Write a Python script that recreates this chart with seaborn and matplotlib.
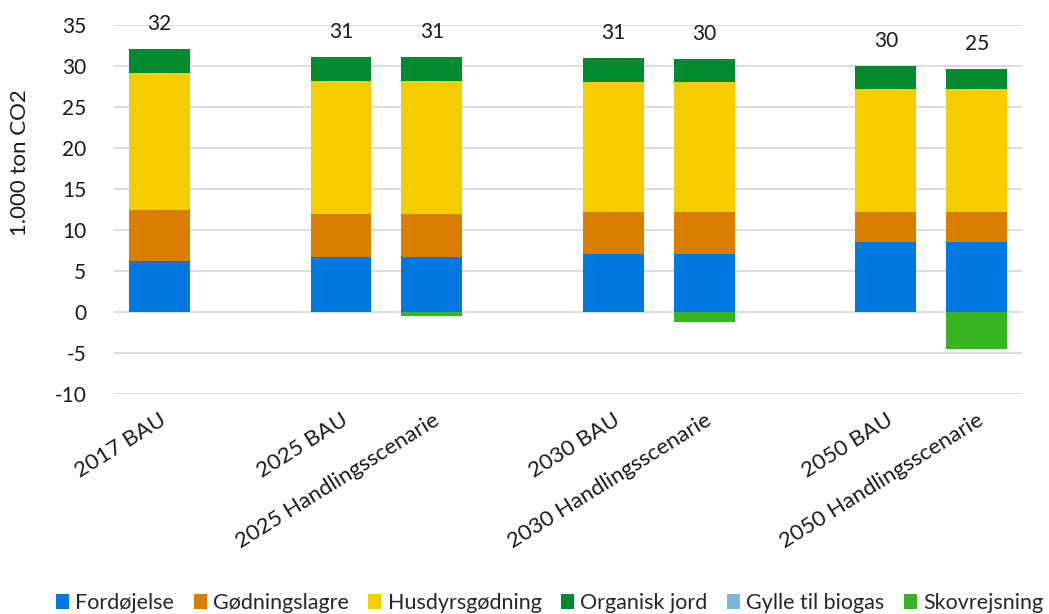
import numpy as np
import pandas as pd
import seaborn as sns
import matplotlib.pyplot as plt
from matplotlib.patches import Patch

# --- data (1.000 ton CO2) ---
scenarios = ["2017 BAU", "2025 BAU", "2025 Handlingsscenarie", "2030 BAU",
             "2030 Handlingsscenarie", "2050 BAU", "2050 Handlingsscenarie"]
fordojelse = [6.3, 6.75, 6.75, 7.15, 7.15, 8.6, 8.6]
godningslagre = [6.2, 5.25, 5.25, 5.05, 5.05, 3.6, 3.6]
husdyrsgodning = [16.65, 16.15, 16.15, 15.9, 15.9, 15.05, 15.05]
organisk_jord = [2.9, 2.95, 2.9, 2.85, 2.7, 2.7, 2.35]
gylle_biogas = [0, 0, 0, 0, 0, 0, 0]
skovrejsning = [0, 0, -0.45, 0, -1.2, 0, -4.45]
total_labels = [32, 31, 31, 31, 30, 30, 25]

series_names = ["Fordøjelse", "Gødningslagre", "Husdyrsgødning", "Organisk jord",
                "Gylle til biogas", "Skovrejsning"]
colors = ["#0078DF", "#D97E00", "#F5CC00", "#00892F", "#7AB8DE", "#38B422"]

# empty slots between the year groups
order = ["2017 BAU", "gap1", "2025 BAU", "2025 Handlingsscenarie", "gap2",
         "2030 BAU", "2030 Handlingsscenarie", "gap3", "2050 BAU", "2050 Handlingsscenarie"]

df = pd.DataFrame({
    "scenario": scenarios,
    "F": fordojelse, "G": godningslagre, "H": husdyrsgodning, "O": organisk_jord,
    "B": gylle_biogas, "S": skovrejsning,
})
# cumulative tops for the positive stack
df["c1"] = df["F"]
df["c2"] = df["c1"] + df["G"]
df["c3"] = df["c2"] + df["H"]
df["c4"] = df["c3"] + df["O"]
df["c5"] = df["c4"] + df["B"]

sns.set_theme(style="white")
plt.rcParams["font.family"] = ["Lato", "DejaVu Sans"]
plt.rcParams["axes.unicode_minus"] = False

txt = "#1a1a1a"
fig = plt.figure(figsize=(10.49, 6.14), dpi=100)
ax = fig.add_axes([0.1087, 0.3577, 0.8656, 0.6016])

bw = 0.67
# draw largest cumulative first so smaller ones sit on top
for col, c in [("c5", colors[4]), ("c4", colors[3]), ("c3", colors[2]),
               ("c2", colors[1]), ("c1", colors[0])]:
    sns.barplot(data=df, x="scenario", y=col, order=order, color=c,
                width=bw, saturation=1, ax=ax, linewidth=0, zorder=3)
sns.barplot(data=df, x="scenario", y="S", order=order, color=colors[5],
            width=bw, saturation=1, ax=ax, linewidth=0, zorder=3)

ax.set_ylim(-10, 35)
ax.set_xlim(-0.5, len(order) - 0.5)
ax.set_yticks(np.arange(-10, 36, 5))
ax.yaxis.grid(True, color="#D9D9D9", linewidth=1.3, zorder=0)
ax.set_axisbelow(True)
for s in ax.spines.values():
    s.set_visible(False)
ax.tick_params(axis="y", length=0, pad=20, labelsize=15, labelcolor=txt)
ax.tick_params(axis="x", length=0, pad=11, labelsize=16, labelcolor=txt)
ax.set_xlabel("")
ax.set_ylabel("")
ax.set_xticks(range(len(order)))
ax.set_xticklabels(["" if o.startswith("gap") else o for o in order],
                   rotation=32, ha="right", va="top", rotation_mode="anchor")

# total labels above bars
for i, row in df.iterrows():
    xpos = order.index(row["scenario"])
    ax.text(xpos, row["c5"] + 3.1, str(total_labels[i]), ha="center", va="center",
            fontsize=15, color=txt, clip_on=False)

fig.text(20 / 1049, 1 - 163 / 614, "1.000 ton CO2", rotation=90, ha="center",
         va="center", fontsize=16, color=txt)

handles = [Patch(facecolor=c, edgecolor="none") for c in colors]
fig.legend(handles, series_names, loc="center", bbox_to_anchor=(0.524, 0.018),
           ncol=6, frameon=False, fontsize=15.5, handlelength=0.6, handleheight=0.7,
           handletextpad=0.3, columnspacing=0.9, borderpad=0)

fig.savefig("out.png", dpi=100)
